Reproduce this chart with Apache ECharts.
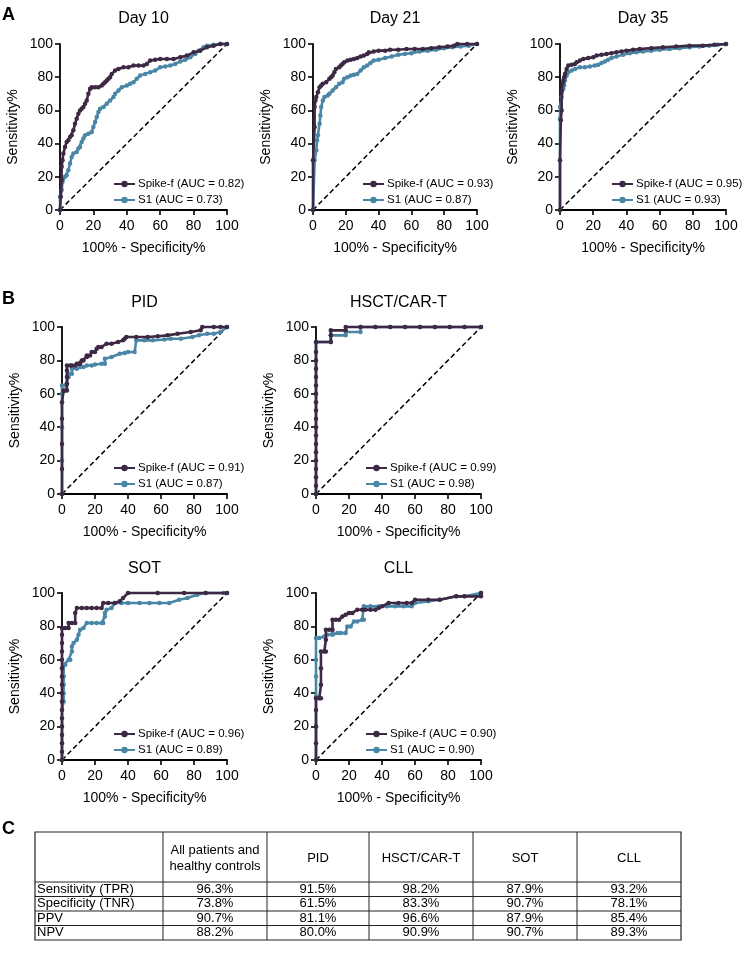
<!DOCTYPE html>
<html>
<head>
<meta charset="utf-8">
<script src="https://cdn.jsdelivr.net/npm/echarts@6/dist/echarts.min.js"></script>
<style>
html,body{margin:0;padding:0;background:#fff;}
#chart{width:744px;height:953px;}
</style>
</head>
<body>
<div id="chart"></div>
<script>
// ---------- DATA ----------
const panelTitles = ['Day 10', 'Day 21', 'Day 35', 'PID', 'HSCT/CAR-T', 'SOT', 'CLL'];
const spikeAUC = [0.82, 0.93, 0.95, 0.91, 0.99, 0.96, 0.90];
const s1AUC = [0.73, 0.87, 0.93, 0.87, 0.98, 0.89, 0.90];
const axisTicks = [0, 20, 40, 60, 80, 100];

const day10Spike = [[0,0],[0.5,8],[1,18],[1,26],[1.5,30],[2,34],[3,38],[4,41],[5,42],[6,44],[7,45],[8,48],[9,52],[10,55],[11,58],[12,60],[13,61],[14,62],[15,64],[16,66],[17,70],[18,73],[19,74],[21,74],[23,74],[25,75],[26,76],[27,77],[28,78],[29,79],[30,80],[31,82],[33,84],[35,85],[38,86],[41,86],[44,87],[47,87],[50,87],[52,88],[54,90],[57,90.5],[60,91],[64,91],[68,91],[72,92],[76,93],[80,95],[84,96],[88,98],[92,99],[96,100],[100,100]];
const day10S1 = [[0,0],[0,8],[1,12],[1.5,17],[3,20],[4,21],[5,24],[6,28],[7,32],[8,34],[10,35],[11,37],[12,38],[13,41],[14,43],[15,45],[17,46],[19,47],[20,50],[21,53],[22,56],[23,59],[24,61],[26,62],[28,64],[30,66],[32,68],[33,70],[35,72],[37,74],[40,75],[42,76],[44,77],[46,79],[48,81],[51,82],[54,83],[57,84],[60,86],[63,86.5],[66,87],[69,88],[72,89.5],[75,90.5],[78,92],[81,94],[83,96],[86,98],[88,99],[92,99.5],[96,100],[100,100]];

const day21Spike = [[0,0],[0,30],[1,50],[1,62],[1.5,66],[2,68],[3,71],[4,74],[5,75],[6,76],[8,77],[10,79],[11,80],[12,81],[13,83],[14,85],[16,86],[17,87],[18,88],[19,89],[21,90],[23,90.5],[25,91],[27,91.5],[29,92.5],[31,93],[33,94],[34,95],[37,95.5],[40,96],[44,96],[47,96.5],[52,96.5],[57,97],[62,97],[67,97],[72,97.5],[77,98],[82,98.5],[86,99],[88,100],[94,100],[100,100]];
const day21S1 = [[0,0],[1,30],[2,36],[2.5,42],[3,45],[4,52],[4.5,57],[5,62],[6,66],[7,68],[9,69],[10,70],[12,72],[14,74],[16,76],[18,77],[19,79],[21,80],[23,81],[25,81.5],[27,82],[29,84],[31,86],[33,87],[35,88.5],[37,90],[40,90.5],[44,91.5],[48,92.5],[52,93.5],[56,94],[60,94.5],[65,95.5],[70,96],[75,96.5],[80,97.5],[85,98],[90,98.5],[95,99],[100,100]];

const day35Spike = [[0,0],[0,30],[0.5,54],[1,60],[1,72],[1.5,76],[2,78],[2.5,80],[3,82],[4,85],[5,87],[7,87.5],[9,88],[10,89],[12,90],[14,91],[17,91.5],[20,92],[22,93],[25,93.5],[28,94],[31,94.5],[34,95],[37,95.5],[40,96],[44,96.5],[48,97],[55,97.5],[62,98],[70,98.5],[78,99],[86,99],[93,99.5],[100,100]];
const day35S1 = [[0,0],[0,55],[0,62],[1,68],[2,73],[2.5,75],[3,78],[4,81],[5,83],[7,84],[9,85],[12,86],[15,86],[18,86.5],[21,87],[23,87.5],[25,88.5],[27,89.5],[29,90.5],[31,91.5],[34,92.5],[38,93.5],[42,94.5],[46,95],[50,95.5],[55,96],[60,96.5],[66,97],[72,97.5],[78,98],[84,98.5],[90,99],[95,99.5],[100,100]];

const pidSpike = [[0,0],[0,15],[0,30],[0,45],[0,55],[1,62],[2,62],[3,62],[3,66],[3,70],[3,74],[3,77],[5,77],[6,77],[8,77],[9,78],[10,78],[11,78],[12,80],[13,80],[15,82],[15,83],[17,83],[18,85],[20,85],[21,87],[22,88],[24,88],[27,90],[30,90],[34,91],[37,92],[38,93],[39,94],[45,94],[52,94],[58,94.5],[64,95],[70,96],[78,97],[84,98],[85,100],[92,100],[96,100],[100,100]];
const pidS1 = [[0,0],[0,20],[0,40],[0,60],[0,65],[2,65],[3,66],[4,70],[4,72],[6,72],[6,75],[9,75],[11,76],[13,76],[15,77],[18,77],[20,77.5],[24,78],[26,78],[26,81],[30,82],[35,84],[38,84.5],[40,85],[44,85],[45,92],[50,92],[55,92],[62,92.5],[66,93],[72,93],[79,94],[83,95],[88,96],[92,96],[96,97],[100,100]];

const hsctSpike = [[0,0],[0,5],[0,10],[0,15],[0,20],[0,25],[0,30],[0,35],[0,40],[0,45],[0,50],[0,55],[0,60],[0,65],[0,70],[0,75],[0,80],[0,85],[0,91],[9,91],[9,95],[9,98],[18,98],[18,100],[27,100],[36,100],[45,100],[54,100],[63,100],[72,100],[81,100],[90,100],[100,100]];
const hsctS1 = [[0,0],[0,91],[9,91],[9,95],[18,95],[18,97],[27,97],[27,100],[36,100],[45,100],[54,100],[63,100],[72,100],[81,100],[90,100],[100,100]];

const sotSpike = [[0,0],[0,5],[0,10],[0,15],[0,20],[0,25],[0,30],[0,35],[0,40],[0,45],[0,50],[0,55],[0,60],[0,65],[0,70],[0,75],[0,79],[2,79],[4,79],[4,82],[6,82],[8,82],[8,88],[9,91],[12,91],[15,91],[18,91],[21,91],[24,91],[25,94],[28,94],[32,94],[35,95],[37,97],[40,100],[58,100],[74,100],[87,100],[100,100]];
const sotS1 = [[0,0],[0,30],[1,35],[1,40],[1,45],[1,50],[1,57],[2,57],[4,60],[5,60],[6,65],[6,68],[7,70],[9,72],[10,75],[11,78],[13,79],[15,82],[18,82],[21,82],[24,82],[25,82],[26,86],[26,88],[27,90],[30,91],[32,94],[36,94],[40,94],[47,94],[53,94],[59,94],[65,94],[71,96],[76,97],[82,99],[87,100],[98,100],[100,100]];

const cllSpike = [[0,0],[0,10],[0,20],[0,30],[0,37],[2,37],[3,37],[3,45],[3,55],[3,65],[5,65],[6,65],[6,72],[6,78],[8,78],[10,78],[10,84],[12,84],[14,84],[16,86],[18,87],[20,88],[22,88],[25,90],[28,90],[30,90],[33,90],[36,90],[38,91],[40,92],[44,94],[50,94],[55,94],[58,94],[60,96],[68,96],[75,96],[85,98],[90,98],[100,98],[100,100]];
const cllS1 = [[0,0],[0,20],[0,38],[0,50],[0,60],[0,73],[2,73],[5,74],[7,75],[10,75],[10,76],[13,76],[15,76],[18,76],[19,80],[21,80],[23,83],[25,83],[28,84],[29,84],[29,92],[33,92],[38,92],[43,92],[48,92],[53,92],[58,92],[60,94],[68,95],[75,96],[85,98],[90,98],[100,100]];

const diagonal = [[0,0],[100,100]];

// Table
const tableColumns = ['All patients and\nhealthy controls', 'PID', 'HSCT/CAR-T', 'SOT', 'CLL'];
const tableRowLabels = ['Sensitivity (TPR)', 'Specificity (TNR)', 'PPV', 'NPV'];
const sensitivityTPR = [96.3, 91.5, 98.2, 87.9, 93.2];
const specificityTNR = [73.8, 61.5, 83.3, 90.7, 78.1];
const ppv = [90.7, 81.1, 96.6, 87.9, 85.4];
const npv = [88.2, 80.0, 90.9, 90.7, 89.3];

// ---------- LAYOUT ----------
const FONT = "'Liberation Sans', Arial, Helvetica, sans-serif";
const SPIKE_COLOR = '#3d2944';
const S1_COLOR = '#4a86a6';
const grids = [
  {left: 60, top: 44, width: 167, height: 166},
  {left: 313, top: 44, width: 164, height: 166},
  {left: 560, top: 44, width: 166, height: 166},
  {left: 62, top: 327, width: 165, height: 167},
  {left: 316, top: 327, width: 165, height: 167},
  {left: 62, top: 593, width: 165, height: 167},
  {left: 316, top: 593, width: 165, height: 167}
];
const legendPos = [
  {left: 113, top: 178},
  {left: 362, top: 178},
  {left: 611, top: 178},
  {left: 113, top: 462},
  {left: 365, top: 462},
  {left: 113, top: 728},
  {left: 365, top: 728}
];
const spikeData = [day10Spike, day21Spike, day35Spike, pidSpike, hsctSpike, sotSpike, cllSpike];
const s1Data = [day10S1, day21S1, day35S1, pidS1, hsctS1, sotS1, cllS1];

const xAxes = [], yAxes = [], series = [], legends = [], graphics = [];
const axisCommon = {
  type: 'value', min: 0, max: 100, interval: 20,
  axisLine: {show: true, lineStyle: {color: '#000', width: 1.8}},
  axisTick: {show: true, length: 5, lineStyle: {color: '#000', width: 1.6}},
  axisLabel: {color: '#000', fontSize: 14, fontFamily: FONT},
  splitLine: {show: false},
  nameLocation: 'middle',
  nameTextStyle: {color: '#000', fontSize: 14, fontFamily: FONT}
};
grids.forEach((g, i) => {
  xAxes.push(Object.assign({}, axisCommon, {gridIndex: i, name: '100% - Specificity%', nameGap: 31,
    axisLabel: Object.assign({}, axisCommon.axisLabel, {margin: 9})}));
  yAxes.push(Object.assign({}, axisCommon, {gridIndex: i, name: 'Sensitivity%', nameGap: 40,
    axisLabel: Object.assign({}, axisCommon.axisLabel, {margin: 7})}));
  const spikeName = 'Spike-f (AUC = ' + spikeAUC[i].toFixed(2) + ')';
  const s1Name = 'S1 (AUC = ' + s1AUC[i].toFixed(2) + ')';
  series.push({type: 'line', xAxisIndex: i, yAxisIndex: i, data: diagonal, symbol: 'none', silent: true,
    lineStyle: {color: '#000', width: 1.5, type: [5, 3]}, z: 1});
  series.push({type: 'line', name: s1Name, xAxisIndex: i, yAxisIndex: i, data: s1Data[i],
    symbol: 'circle', symbolSize: 4.5, showAllSymbol: true, clip: false,
    lineStyle: {color: S1_COLOR, width: 2.6}, itemStyle: {color: S1_COLOR}, z: 2});
  series.push({type: 'line', name: spikeName, xAxisIndex: i, yAxisIndex: i, data: spikeData[i],
    symbol: 'circle', symbolSize: 4.5, showAllSymbol: true, clip: false,
    lineStyle: {color: SPIKE_COLOR, width: 2.6}, itemStyle: {color: SPIKE_COLOR}, z: 3});
  legends.push({data: [spikeName, s1Name], orient: 'vertical', left: legendPos[i].left, top: legendPos[i].top,
    itemWidth: 21, itemHeight: 8, itemGap: 4, selectedMode: false, padding: 0,
    textStyle: {fontSize: 11.5, color: '#000', fontFamily: FONT, padding: [0, 0, 0, -2]}});
  graphics.push({type: 'text', x: g.left + g.width / 2, y: g.top - (i < 3 ? 25 : 24),
    style: {text: panelTitles[i], font: '16px ' + FONT, fill: '#000', textAlign: 'center', textVerticalAlign: 'middle'}});
});

// panel letters
[['A', 15], ['B', 299], ['C', 829]].forEach(p => {
  graphics.push({type: 'text', x: 2, y: p[1], style: {text: p[0], font: 'bold 18px ' + FONT, fill: '#000', textVerticalAlign: 'middle'}});
});

// table
const colX = [35, 163, 267, 369, 473, 577, 681];
const rowY = [832, 882, 896.5, 911, 925.5, 940];
const tableValues = [sensitivityTPR, specificityTNR, ppv, npv];
const lineStyle = {stroke: '#222', lineWidth: 1};
graphics.push({type: 'rect', shape: {x: colX[0], y: rowY[0], width: colX[6] - colX[0], height: rowY[5] - rowY[0]},
  style: {fill: 'none', stroke: '#222', lineWidth: 1.2}});
for (let c = 1; c < colX.length - 1; c++) {
  graphics.push({type: 'line', shape: {x1: colX[c], y1: rowY[0], x2: colX[c], y2: rowY[5]}, style: lineStyle});
}
for (let r = 1; r < rowY.length - 1; r++) {
  graphics.push({type: 'line', shape: {x1: colX[0], y1: rowY[r], x2: colX[6], y2: rowY[r]}, style: lineStyle});
}
tableColumns.forEach((t, c) => {
  graphics.push({type: 'text', x: (colX[c + 1] + colX[c + 2]) / 2, y: (rowY[0] + rowY[1]) / 2 + 1,
    style: {text: t, font: '13px ' + FONT, fill: '#000', textAlign: 'center', textVerticalAlign: 'middle', lineHeight: 16}});
});
tableRowLabels.forEach((t, r) => {
  const cy = (rowY[r + 1] + rowY[r + 2]) / 2;
  graphics.push({type: 'text', x: colX[0] + 2, y: cy,
    style: {text: t, font: '13px ' + FONT, fill: '#000', textAlign: 'left', textVerticalAlign: 'middle'}});
  tableValues[r].forEach((v, c) => {
    graphics.push({type: 'text', x: (colX[c + 1] + colX[c + 2]) / 2, y: cy,
      style: {text: v.toFixed(1) + '%', font: '13px ' + FONT, fill: '#000', textAlign: 'center', textVerticalAlign: 'middle'}});
  });
});

const chart = echarts.init(document.getElementById('chart'), null, {renderer: 'canvas'});
chart.setOption({
  animation: false,
  backgroundColor: '#fff',
  textStyle: {fontFamily: FONT},
  grid: grids,
  xAxis: xAxes,
  yAxis: yAxes,
  legend: legends,
  series: series,
  graphic: graphics
});
</script>
</body>
</html>
